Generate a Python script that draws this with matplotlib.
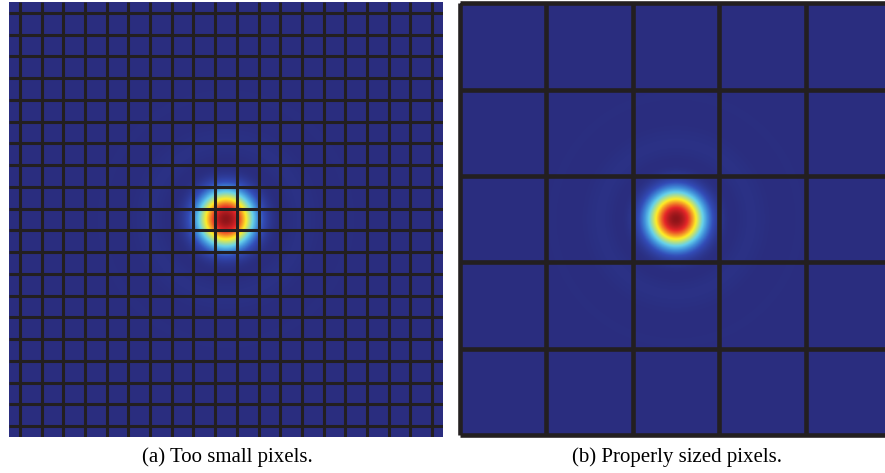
import numpy as np
import matplotlib
matplotlib.use("Agg")
import matplotlib.pyplot as plt
from matplotlib.colors import LinearSegmentedColormap

# sensor grids: pixels across the field of view
n_pixels = [20, 5]
captions = ["(a) Too small pixels.", "(b) Properly sized pixels."]
grid_offset = [0.5, 0.0]          # grid lines at pixel centres / pixel borders
line_widths = [2.2, 3.3]
clip_lines = [True, False]

# Airy spot, radius unit as a fraction of the field of view
airy_unit = 0.034
line_color = "#231f20"

cmap = LinearSegmentedColormap.from_list("psf", [
    (0.00, (0.165, 0.180, 0.500)),
    (0.15, (0.200, 0.300, 0.720)),
    (0.27, (0.250, 0.550, 0.850)),
    (0.40, (0.400, 0.820, 0.920)),
    (0.62, (1.000, 0.930, 0.150)),
    (0.86, (0.900, 0.150, 0.160)),
    (1.00, (0.560, 0.080, 0.100)),
])


def bessel_j1(x):
    tau = np.linspace(0, np.pi, 400)
    vals = np.cos(tau[None, :] - x[:, None] * np.sin(tau[None, :]))
    return np.trapezoid(vals, tau, axis=1) / np.pi


def airy_image(n=700):
    r1d = np.linspace(1e-6, 40, 4000)
    prof = (2 * bessel_j1(r1d) / r1d) ** 2
    c = np.linspace(-0.5, 0.5, n)
    X, Y = np.meshgrid(c, c)
    v = np.hypot(X, Y) / airy_unit
    return np.interp(v, r1d, prof)


psf = airy_image()

fig = plt.figure(figsize=(8.85, 4.73), dpi=100)
boxes = [
    [9 / 885, 36 / 473, 434 / 885, 435 / 473],
    [460 / 885, 38 / 473, 432 / 885, 431.5 / 473],
]
caption_x = [227 / 885, 677 / 885]

for box, n, off, lw, clip, cap, cx in zip(boxes, n_pixels, grid_offset,
                                          line_widths, clip_lines,
                                          captions, caption_x):
    ax = fig.add_axes(box)
    ax.imshow(psf, cmap=cmap, vmin=0, vmax=1, extent=[0, n, 0, n],
              origin="lower", interpolation="bilinear", aspect="auto")
    ticks = np.arange(n + 1) + off
    ticks = ticks[ticks <= n]
    for t in ticks:
        ax.axvline(t, color=line_color, lw=lw, clip_on=clip,
                   solid_capstyle="butt")
        ax.axhline(t, color=line_color, lw=lw, clip_on=clip,
                   solid_capstyle="butt")
    ax.set_xlim(0, n)
    ax.set_ylim(0, n)
    ax.set_axis_off()
    fig.text(cx, 16 / 473, cap, ha="center", va="center",
             family="Liberation Serif", fontsize=15)

fig.savefig("out.png", dpi=100)
